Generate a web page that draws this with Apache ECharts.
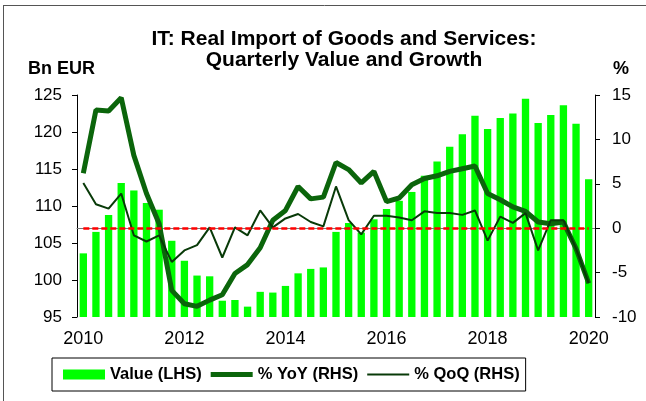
<!DOCTYPE html>
<html>
<head>
<meta charset="utf-8">
<script src="https://cdn.jsdelivr.net/npm/echarts@6/dist/echarts.min.js"></script>
<style>
  html, body { margin: 0; padding: 0; background: #fff; }
  #chart { width: 646px; height: 401px; }
</style>
</head>
<body>
<div id="chart"></div>
<script>
  // quarters 2010Q1 .. 2020Q1
  var quarters = [];
  for (var y = 2010; y <= 2020; y++) {
    for (var q = 1; q <= 4; q++) {
      if (y === 2020 && q > 1) break;
      quarters.push(y + 'Q' + q);
    }
  }

  // Bn EUR (LHS)
  var valueLHS = [103.6, 106.5, 108.8, 113.1, 112.1, 110.4, 109.5, 105.3, 102.6, 100.6,
    100.5, 97.2, 97.3, 96.4, 98.4, 98.3, 99.2, 100.9, 101.5, 101.7,
    106.5, 107.7, 106.4, 108.2, 109.6, 110.7, 111.9, 114.1, 116.0, 118.0,
    119.7, 122.2, 120.4, 121.9, 122.5, 124.5, 121.2, 122.3, 123.6, 121.1, 113.6];

  // % YoY (RHS)
  var yoy = [6.2, 13.3, 13.2, 14.7, 8.2, 3.9, 0.5, -7.0, -8.5, -8.8,
    -8.1, -7.5, -5.1, -4.1, -2.2, 0.9, 2.0, 4.7, 3.3, 3.5,
    7.4, 6.6, 5.1, 6.4, 3.0, 3.4, 4.9, 5.6, 5.9, 6.4,
    6.7, 7.0, 3.9, 3.2, 2.4, 1.9, 0.7, 0.5, 0.7, -2.3, -6.2];

  // % QoQ (RHS)
  var qoq = [5.1, 2.7, 2.2, 3.9, -0.8, -1.5, -0.8, -3.8, -2.5, -1.9,
    0.1, -3.3, 0.1, -0.8, 2.0, 0.1, 1.1, 1.6, 0.7, 0.2,
    4.7, 0.9, -0.7, 1.4, 1.4, 1.2, 0.9, 1.9, 1.7, 1.7,
    1.5, 2.0, -1.4, 1.3, 0.6, 1.7, -2.5, 0.9, 0.9, -2.3, -6.2];

  var font = 'Liberation Sans, Arial, sans-serif';
  var yoyColor = '#0b650b';
  var qoqColor = '#083a08';

  var chart = echarts.init(document.getElementById('chart'));
  var option = {
    animation: false,
    backgroundColor: '#fff',
    title: {
      text: 'IT: Real Import of Goods and Services:\nQuarterly Value and Growth',
      left: 339,
      top: 24,
      textAlign: 'center',
      textStyle: { fontFamily: font, fontSize: 21, fontWeight: 'bold', color: '#000', lineHeight: 21 }
    },
    graphic: [
      { type: 'text', left: 28, top: 60, style: { text: 'Bn EUR', font: 'bold 18px ' + font, fill: '#000' } },
      { type: 'text', left: 613, top: 60, style: { text: '%', font: 'bold 18px ' + font, fill: '#000' } },
      // frame, left and top only
      { type: 'line', shape: { x1: 3.5, y1: 5, x2: 3.5, y2: 401 }, style: { stroke: '#555', lineWidth: 1 } },
      { type: 'line', shape: { x1: 3, y1: 5.5, x2: 646, y2: 5.5 }, style: { stroke: '#555', lineWidth: 1 } }
    ],
    legend: {
      data: [
        { name: 'Value (LHS)', icon: 'rect' },
        { name: '% YoY (RHS)', icon: 'path://M0,0H42V5H0Z' },
        { name: '% QoQ (RHS)', icon: 'path://M0,0H42V2H0Z' }
      ],
      left: 52,
      top: 358,
      orient: 'horizontal',
      padding: [8, 6, 8, 11],
      itemGap: 9,
      itemWidth: 42,
      itemHeight: 10,
      borderColor: '#000',
      borderWidth: 1,
      textStyle: { fontFamily: font, fontSize: 16.5, fontWeight: 'bold', color: '#000' }
    },
    grid: { left: 77, right: 51, top: 95, bottom: 84 },
    xAxis: {
      type: 'category',
      data: quarters,
      boundaryGap: true,
      axisLine: { lineStyle: { color: '#777', width: 1 } },
      axisTick: {
        length: 5,
        interval: function (i) { return i % 4 === 0; },
        lineStyle: { color: '#000' }
      },
      axisLabel: {
        interval: function (i) { return i % 8 === 0; },
        formatter: function (v) { return v.slice(0, 4); },
        margin: 13,
        fontFamily: font, fontSize: 18, color: '#000'
      },
      splitLine: { show: false }
    },
    yAxis: [
      {
        type: 'value', min: 95, max: 125, interval: 5,
        axisLine: { show: true, lineStyle: { color: '#000' } },
        axisTick: { show: true, length: 5, lineStyle: { color: '#000' } },
        axisLabel: { margin: 15, fontFamily: font, fontSize: 17, color: '#000' },
        splitLine: { show: false }
      },
      {
        type: 'value', min: -10, max: 15, interval: 5,
        axisLine: { show: true, lineStyle: { color: '#000' } },
        axisTick: { show: true, length: 5, lineStyle: { color: '#000' } },
        axisLabel: { margin: 17, fontFamily: font, fontSize: 17, color: '#000' },
        splitLine: { show: false }
      }
    ],
    series: [
      {
        name: 'Value (LHS)',
        type: 'bar',
        data: valueLHS,
        barCategoryGap: '42%',
        itemStyle: { color: '#00ff00' },
        z: 1
      },
      {
        name: 'zero',
        type: 'line',
        yAxisIndex: 1,
        data: [],
        z: 2,
        markLine: {
          silent: true,
          symbol: ['none', 'none'],
          label: { show: false },
          lineStyle: { color: '#ff0000', width: 2.5, type: [6, 3] },
          data: [[{ coord: [0, 0] }, { coord: [40, 0] }]]
        }
      },
      {
        name: '% YoY (RHS)',
        type: 'line',
        yAxisIndex: 1,
        data: yoy,
        symbol: 'none',
        lineStyle: { color: yoyColor, width: 5 },
        itemStyle: { color: yoyColor },
        z: 3
      },
      {
        name: '% QoQ (RHS)',
        type: 'line',
        yAxisIndex: 1,
        data: qoq,
        symbol: 'none',
        lineStyle: { color: qoqColor, width: 2 },
        itemStyle: { color: qoqColor },
        z: 4
      }
    ]
  };
  chart.setOption(option);
</script>
</body>
</html>
